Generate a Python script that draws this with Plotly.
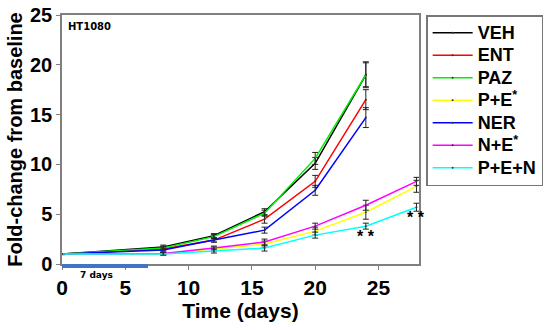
import plotly.graph_objects as go

days_hi = [0, 8, 12, 16, 20, 24]
days_lo = [0, 8, 12, 16, 20, 24, 28]

names = ["VEH", "ENT", "PAZ", "P+E<sup>*</sup>", "NER", "N+E<sup>*</sup>", "P+E+N"]
colors = ["#000000", "#ff0000", "#00ee00", "#ffff00", "#0000ff", "#ff00ff", "#00ffff"]

veh = [1.0, 1.7, 2.85, 5.25, 10.1, 19.0]
ent = [1.0, 1.5, 2.4, 4.5, 8.3, 16.5]
paz = [1.0, 1.6, 2.75, 5.1, 10.6, 19.0]
pe = [1.0, 1.0, 1.5, 2.0, 3.3, 5.2, 7.8]
ner = [1.0, 1.4, 2.4, 3.4, 7.4, 14.7]
ne = [1.0, 1.05, 1.6, 2.2, 3.8, 5.9, 8.3]
pen = [1.0, 1.0, 1.3, 1.6, 2.9, 3.8, 5.7]

veh_err = [0.05, 0.2, 0.2, 0.3, 0.6, 1.2]
ent_err = [0.05, 0.2, 0.2, 0.4, 0.6, 1.0]
paz_err = [0.05, 0.2, 0.2, 0.3, 0.6, 1.3]
pe_err = [0.05, 0.1, 0.2, 0.3, 0.4, 0.7, 0.6]
ner_err = [0.05, 0.2, 0.2, 0.3, 0.5, 1.0]
ne_err = [0.05, 0.1, 0.2, 0.3, 0.3, 0.5, 0.4]
pen_err = [0.05, 0.1, 0.2, 0.3, 0.3, 0.3, 0.4]

# treatment period (days)
treat_x = [0, 6.8]

series = [
    (veh, veh_err, days_hi),
    (ent, ent_err, days_hi),
    (paz, paz_err, days_hi),
    (pe, pe_err, days_lo),
    (ner, ner_err, days_hi),
    (ne, ne_err, days_lo),
    (pen, pen_err, days_lo),
]

fig = go.Figure()
for (vals, errs, xs), name, col in zip(series, names, colors):
    fig.add_trace(go.Scatter(
        x=xs, y=vals, name='<span style="font-size:18px">' + name + '</span>',
        mode="lines+markers",
        line=dict(color=col, width=1.5),
        marker=dict(color="#333333", size=2),
        error_y=dict(type="data", array=errs, visible=True, color="#222222", thickness=1, width=3),
    ))

fig.add_shape(type="line", xref="x", yref="paper", x0=treat_x[0], x1=treat_x[1],
              y0=-0.008, y1=-0.008, line=dict(color="#4472c4", width=4), layer="above")

AR = "Liberation Sans, Arial, sans-serif"
fig.update_layout(
    width=556, height=330,
    margin=dict(l=62, r=137, t=15, b=66, autoexpand=False),
    plot_bgcolor="white", paper_bgcolor="white",
    font=dict(family=AR, color="black"),
    showlegend=True,
    legend=dict(
        x=1.02, y=1.0, xanchor="left", yanchor="top",
        bordercolor="#777777", borderwidth=1.5,
        font=dict(size=15, family=AR, weight="bold"),
        tracegroupgap=0, itemwidth=40,
    ),
    xaxis=dict(
        range=[0, 28.2], tickvals=[0, 5, 10, 15, 20, 25], automargin=False,
        showgrid=False, zeroline=False, showline=True, linecolor="#808080", linewidth=1.5,
        mirror=True, ticks="outside", ticklen=4, tickcolor="#808080",
        tickfont=dict(size=21, family=AR, weight="bold"),
        title=dict(text="Time (days)", font=dict(size=21, family=AR, weight="bold"), standoff=2),
    ),
    yaxis=dict(
        range=[0, 25], tickvals=[0, 5, 10, 15, 20, 25], automargin=False,
        showgrid=False, zeroline=False, showline=True, linecolor="#808080", linewidth=1.5,
        mirror=True, ticks="outside", ticklen=4, tickcolor="#808080",
        tickfont=dict(size=20, family=AR, weight="bold"),
        title=dict(text="Fold-change from baseline", font=dict(size=20, family=AR, weight="bold"), standoff=2),
    ),
    annotations=[
        dict(x=0.01, y=0.985, xref="paper", yref="paper", text="<b>HT1080</b>", showarrow=False,
             xanchor="left", yanchor="top", font=dict(size=10, family="DejaVu Sans")),
        dict(x=2.7, y=0, xref="x", yref="y", text="<b>7 days</b>", showarrow=False,
             yanchor="top", yshift=-4, font=dict(size=9, family="DejaVu Sans")),
        dict(x=24, y=2.8, xref="x", yref="y", text="<b>* *</b>", showarrow=False,
             font=dict(size=16, family=AR)),
        dict(x=28, y=4.7, xref="x", yref="y", text="<b>* *</b>", showarrow=False,
             font=dict(size=16, family=AR)),
    ],
)

fig.write_html("out.html", config={"displayModeBar": False},
               post_script="document.body.style.margin='0';")
